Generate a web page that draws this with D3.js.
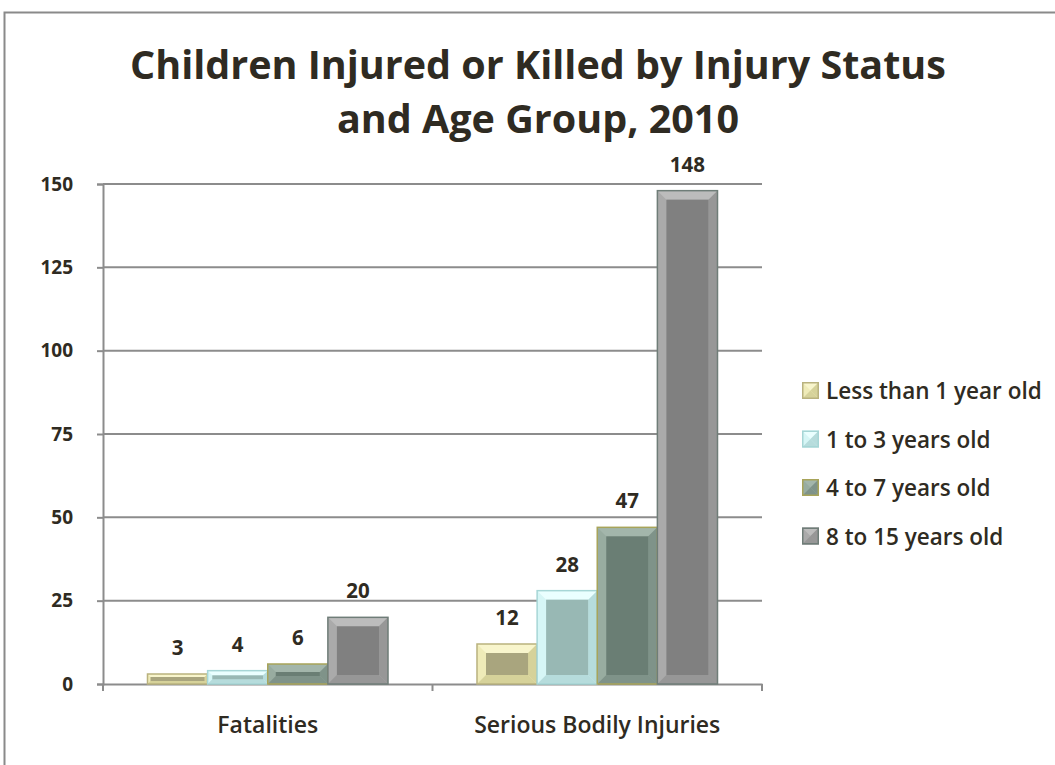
<!DOCTYPE html>
<html>
<head>
<meta charset="utf-8">
<script src="https://cdn.jsdelivr.net/npm/d3@7"></script>
<style>
  body { margin: 0; background: #fff; }
  text { font-family: "Open Sans", Lato, sans-serif; fill: #2f2b22; }
</style>
</head>
<body>
<div id="chart"></div>
<script>
const categories = ['Fatalities', 'Serious Bodily Injuries'];
const series = ['Less than 1 year old', '1 to 3 years old', '4 to 7 years old', '8 to 15 years old'];
const values = [
  [3, 4, 6, 20],
  [12, 28, 47, 148]
];
const yTicks = [0, 25, 50, 75, 100, 125, 150];

// bevel colours per series: top, left, right/bottom, inner, outline
const palette = [
  { top: '#f8f5cc', left: '#efebb8', dark: '#d6d29a', inner: '#a9a57e', line: '#b9b27e' },
  { top: '#eaffff', left: '#d6f6f6', dark: '#b6dcdc', inner: '#98b8b4', line: '#a6d6d6' },
  { top: '#a3b6ab', left: '#98aca0', dark: '#7f9389', inner: '#6a7e74', line: '#a8a45a' },
  { top: '#bcbcbc', left: '#aaaaaa', dark: '#979797', inner: '#808080', line: '#6f7d78' }
];

const w = 1055, h = 765;
const plotL = 103, plotR = 762, plotT = 184, plotB = 684;

const svg = d3.select('#chart').append('svg')
  .attr('width', w)
  .attr('height', h);

// outer frame
svg.append('rect')
  .attr('x', 4.5).attr('y', 12.5)
  .attr('width', 1100).attr('height', 800)
  .attr('fill', 'none').attr('stroke', '#8a8a8a').attr('stroke-width', 2);

svg.append('text')
  .attr('x', 538).attr('text-anchor', 'middle')
  .attr('font-size', 39.5).attr('font-weight', 700)
  .selectAll('tspan')
  .data(['Children Injured or Killed by Injury Status', 'and Age Group, 2010'])
  .enter().append('tspan')
  .attr('x', 538)
  .attr('y', (d, i) => 79 + i * 54)
  .text(d => d);

const x0 = d3.scaleBand().domain(categories).range([plotL, plotR]);
const x1 = d3.scaleBand().domain(series).range([0, x0.bandwidth()]).paddingOuter(0.74);
const y = d3.scaleLinear().domain([0, 150]).range([plotB, plotT]);

// gridlines
svg.append('g')
  .selectAll('line')
  .data(yTicks.slice(1))
  .enter().append('line')
  .attr('x1', plotL).attr('x2', plotR)
  .attr('y1', d => y(d)).attr('y2', d => y(d))
  .attr('stroke', '#8c8c8c').attr('stroke-width', 2);

const yAxis = svg.append('g')
  .attr('transform', 'translate(' + plotL + ',0)')
  .call(d3.axisLeft(y).tickValues(yTicks).tickSize(6).tickPadding(24));
yAxis.selectAll('text').attr('font-size', 19).attr('font-weight', 700);

const xAxis = svg.append('g')
  .attr('transform', 'translate(0,' + plotB + ')')
  .call(d3.axisBottom(x0).tickSize(0).tickPadding(33));
xAxis.selectAll('text').attr('font-size', 23).attr('font-weight', 600);
// category boundary ticks
xAxis.selectAll('.bound')
  .data([plotL, x0(categories[1]), plotR])
  .enter().append('line')
  .attr('class', 'bound')
  .attr('x1', d => d).attr('x2', d => d)
  .attr('y1', 0).attr('y2', 7)
  .attr('stroke', '#8c8c8c').attr('stroke-width', 2);

svg.selectAll('.domain, .tick line').attr('stroke', '#8c8c8c').attr('stroke-width', 2);

function bevel(g, bx, by, bw, bh, c) {
  const b = Math.max(1, Math.min(9, bh / 2 - 2));
  const x2 = bx + bw, y2 = by + bh;
  const pts = arr => arr.map(p => p.join(',')).join(' ');
  g.append('rect').attr('x', bx).attr('y', by).attr('width', bw).attr('height', bh).attr('fill', c.left);
  g.append('polygon').attr('points', pts([[bx, by], [x2, by], [x2 - b, by + b], [bx + b, by + b]])).attr('fill', c.top);
  g.append('polygon').attr('points', pts([[x2, by], [x2, y2], [x2 - b, y2 - b], [x2 - b, by + b]])).attr('fill', c.dark);
  g.append('polygon').attr('points', pts([[bx, y2], [x2, y2], [x2 - b, y2 - b], [bx + b, y2 - b]])).attr('fill', c.dark);
  g.append('rect').attr('x', bx + b).attr('y', by + b)
    .attr('width', Math.max(0, bw - 2 * b)).attr('height', Math.max(0, bh - 2 * b))
    .attr('fill', c.inner);
  g.append('rect').attr('x', bx).attr('y', by).attr('width', bw).attr('height', bh)
    .attr('fill', 'none').attr('stroke', c.line).attr('stroke-width', 1.5);
}

categories.forEach((cat, ci) => {
  series.forEach((s, si) => {
    const v = values[ci][si];
    const bx = x0(cat) + x1(s);
    const by = y(v);
    const g = svg.append('g');
    bevel(g, bx, by, x1.bandwidth(), plotB - by, palette[si]);
    svg.append('text')
      .attr('x', bx + x1.bandwidth() / 2)
      .attr('y', by - 19)
      .attr('text-anchor', 'middle')
      .attr('font-size', 20.5).attr('font-weight', 700)
      .text(v);
  });
});

// legend
const legend = svg.append('g').attr('transform', 'translate(802,382)');
series.forEach((s, i) => {
  const g = legend.append('g').attr('transform', 'translate(0,' + (i * 48.5) + ')');
  const c = palette[i];
  const sz = 17;
  g.append('rect').attr('width', sz).attr('height', sz).attr('fill', c.left);
  g.append('polygon').attr('points', [[0, 0], [sz, 0], [sz / 2, sz / 2]].join(' ')).attr('fill', c.top);
  g.append('polygon').attr('points', [[sz, 0], [sz, sz], [sz / 2, sz / 2]].join(' ')).attr('fill', c.dark);
  g.append('polygon').attr('points', [[0, sz], [sz, sz], [sz / 2, sz / 2]].join(' ')).attr('fill', c.dark);
  g.append('rect').attr('x', 0.75).attr('y', 0.75).attr('width', sz - 1.5).attr('height', sz - 1.5)
    .attr('fill', 'none').attr('stroke', c.line).attr('stroke-width', 1.5);
  g.append('text').attr('x', 24).attr('y', 17)
    .attr('font-size', 22.5).attr('font-weight', 600)
    .text(s);
});
</script>
</body>
</html>
